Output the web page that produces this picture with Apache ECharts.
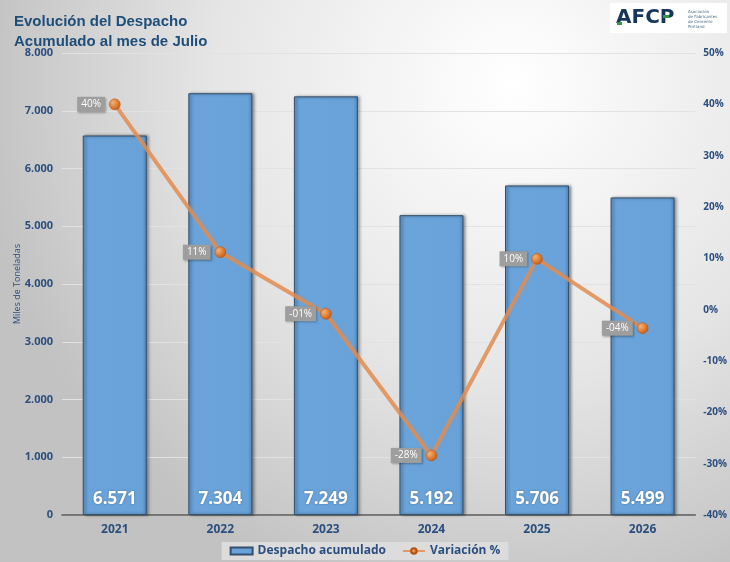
<!DOCTYPE html>
<html style="height: 100%">
<head>
    <meta charset="utf-8">
</head>
<body style="height: 100%; margin: 0">
    <div id="container" style="height: 100%"></div>
    <script type="text/javascript" src="https://cdn.jsdelivr.net/npm/echarts@6/dist/echarts.min.js"></script>
    <script type="text/javascript">
        // datos del grafico
        var years = ['2021', '2022', '2023', '2024', '2025', '2026'];
        var despacho = [6571, 7304, 7249, 5192, 5706, 5499];
        var variacion = [40, 11.2, -0.8, -28.4, 9.9, -3.6];

        var dom = document.getElementById("container");
        var myChart = echarts.init(dom);

        function miles(v) {
            return String(v).replace(/\B(?=(\d{3})+(?!\d))/g, '.');
        }
        function pct(v) {
            var r = Math.round(v);
            var s = String(Math.abs(r));
            if (s.length < 2) s = '0' + s;
            return (r < 0 ? '-' : '') + s + '%';
        }

        var blue = '#2b4f7e';

        var option = {
            backgroundColor: new echarts.graphic.RadialGradient(0.7, 0.15, 0.95, [
                { offset: 0, color: '#ffffff' },
                { offset: 0.55, color: '#e6e6e6' },
                { offset: 1, color: '#c2c2c2' }
            ]),
            textStyle: { fontFamily: 'Open Sans' },
            title: {
                text: 'Evolución del Despacho\nAcumulado al mes de Julio',
                left: 9,
                top: 7,
                textStyle: {
                    fontFamily: 'Liberation Sans',
                    fontSize: 15,
                    fontWeight: 'bold',
                    color: '#1f4e79',
                    lineHeight: 20
                }
            },
            graphic: [
                {
                    type: 'rect',
                    left: 610, top: 3,
                    shape: { width: 117, height: 30 },
                    style: { fill: '#ffffff' }
                },
                {
                    type: 'text',
                    left: 616, top: 8,
                    style: {
                        text: 'AFCP',
                        font: 'bold 20px "DejaVu Sans"',
                        fill: '#16365c'
                    }
                },
                {
                    type: 'rect',
                    left: 617, top: 22,
                    shape: { width: 5, height: 3 },
                    style: { fill: '#2f9a4a' }
                },
                {
                    type: 'rect',
                    left: 663, top: 15,
                    shape: { width: 6, height: 3 },
                    style: { fill: '#2f9a4a' }
                },
                {
                    type: 'text',
                    left: 688, top: 9,
                    style: {
                        text: 'Asociación\nde Fabricantes\nde Cemento\nPortland',
                        font: '4px "DejaVu Sans"',
                        lineHeight: 5,
                        fill: '#4a6a8a'
                    }
                }
            ],
            legend: {
                bottom: 2,
                left: 'center',
                backgroundColor: '#dcdcdc',
                padding: [3, 8],
                itemGap: 16,
                itemWidth: 22,
                itemHeight: 7,
                textStyle: { color: blue, fontWeight: 'bold', fontSize: 12 },
                data: [
                    { name: 'Despacho acumulado', icon: 'rect' },
                    { name: 'Variación %' }
                ]
            },
            grid: { left: 62, right: 32, top: 53, bottom: 47 },
            xAxis: {
                type: 'category',
                data: years,
                axisTick: { show: false },
                axisLine: { lineStyle: { color: '#595959', width: 1.5 } },
                axisLabel: { color: blue, fontWeight: 'bold', fontSize: 12, margin: 9 }
            },
            yAxis: [
                {
                    type: 'value',
                    min: 0, max: 8000, interval: 1000,
                    name: 'Miles de Toneladas',
                    nameLocation: 'middle',
                    nameRotate: 90,
                    nameGap: 40,
                    nameMoveOverlap: false,
                    nameTextStyle: { color: blue, fontSize: 9 },
                    axisLine: { show: false },
                    axisTick: { show: false },
                    axisLabel: {
                        color: blue, fontWeight: 'bold', fontSize: 11, margin: 9,
                        formatter: function (v) { return miles(v); }
                    },
                    splitLine: { lineStyle: { color: '#e2e2e2', width: 1 } }
                },
                {
                    type: 'value',
                    min: -40, max: 50, interval: 10,
                    axisLine: { show: false },
                    axisTick: { show: false },
                    splitLine: { show: false },
                    axisLabel: {
                        color: blue, fontWeight: 'bold', fontSize: 10, margin: 8,
                        formatter: '{value}%'
                    }
                }
            ],
            series: [
                {
                    name: 'Despacho acumulado',
                    type: 'bar',
                    data: despacho,
                    barWidth: 64,
                    itemStyle: {
                        color: new echarts.graphic.LinearGradient(0, 0, 1, 0, [
                            { offset: 0, color: '#5b95cc' },
                            { offset: 0.05, color: '#6aa4da' },
                            { offset: 0.93, color: '#68a2d8' },
                            { offset: 1, color: '#4f86bb' }
                        ]),
                        borderColor: '#34506c',
                        borderWidth: 1,
                        shadowColor: 'rgba(0,0,0,0.45)',
                        shadowBlur: 3,
                        shadowOffsetX: 2
                    },
                    label: {
                        show: true,
                        position: 'insideBottom',
                        distance: 7,
                        color: '#ffffff',
                        fontSize: 17,
                        fontWeight: 'bold',
                        textShadowColor: 'rgba(0,0,0,0.35)',
                        textShadowBlur: 2,
                        formatter: function (p) { return miles(p.value); }
                    }
                },
                {
                    name: 'Variación %',
                    type: 'line',
                    yAxisIndex: 1,
                    data: variacion,
                    symbol: 'circle',
                    symbolSize: 11,
                    lineStyle: { color: 'rgba(226,140,80,0.85)', width: 4 },
                    itemStyle: {
                        color: new echarts.graphic.RadialGradient(0.35, 0.35, 0.7, [
                            { offset: 0, color: '#f7b070' },
                            { offset: 1, color: '#c85a10' }
                        ]),
                        borderColor: '#b65010',
                        borderWidth: 0.5
                    },
                    label: {
                        show: true,
                        position: 'left',
                        distance: 4,
                        color: '#ffffff',
                        fontSize: 10,
                        backgroundColor: '#9e9e9e',
                        padding: [3, 4, 2, 4],
                        shadowColor: 'rgba(0,0,0,0.3)',
                        shadowBlur: 2,
                        shadowOffsetX: 1,
                        shadowOffsetY: 1,
                        formatter: function (p) { return pct(p.value); }
                    }
                }
            ]
        };

        myChart.setOption(option);
    </script>
</body>
</html>
